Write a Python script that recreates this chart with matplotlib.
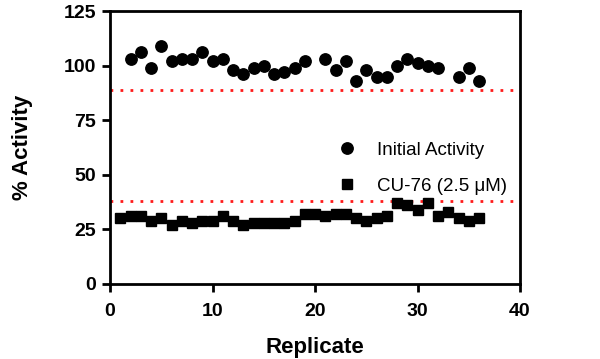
import matplotlib
matplotlib.use("Agg")
import matplotlib.pyplot as plt

plt.rcParams['font.family'] = ['Liberation Sans', 'DejaVu Sans']

initial_x = [2, 3, 4, 5, 6, 7, 8, 9, 10, 11, 12, 13, 14, 15, 16, 17, 18, 19,
             21, 22, 23, 24, 25, 26, 27, 28, 29, 30, 31, 32, 34, 35, 36]
initial_y = [103, 106, 99, 109, 102, 103, 103, 106, 102, 103, 98, 96, 99, 100, 96, 97, 99, 102,
             103, 98, 102, 93, 98, 95, 95, 100, 103, 101, 100, 99, 95, 99, 93]

cu_x = list(range(1, 37))
cu_y = [30, 31, 31, 29, 30, 27, 29, 28, 29, 29, 31, 29, 27, 28, 28, 28, 28, 29,
        32, 32, 31, 32, 32, 30, 29, 30, 31, 37, 36, 34, 37, 31, 33, 30, 29, 30]

thresholds = [88.7, 37.8]
xticks = [0, 10, 20, 30, 40]
yticks = [0, 25, 50, 75, 100, 125]

fig = plt.figure(figsize=(6, 3.59), dpi=100)
ax = fig.add_axes([110/600, 1-284/359, 410/600, 273/359])

for t in thresholds:
    ax.axhline(t, color='#ff1a1a', linestyle=(0, (1, 2.6)), linewidth=2.0, zorder=1)

ax.plot(initial_x, initial_y, 'o', color='black', markersize=8.2, label='Initial Activity', zorder=3)
ax.plot(cu_x, cu_y, 's', color='black', markersize=7.4, label='CU-76 (2.5 μM)', zorder=3)

ax.set_xlim(0, 40)
ax.set_ylim(0, 125)
ax.set_xticks(xticks)
ax.set_yticks(yticks)
for s in ax.spines.values():
    s.set_linewidth(2.0)
ax.tick_params(axis='both', direction='out', length=6, width=2, labelsize=14)
ax.tick_params(axis='x', pad=8)
ax.tick_params(axis='y', pad=4)
for lbl in ax.get_xticklabels() + ax.get_yticklabels():
    lbl.set_fontweight('bold')

ax.set_xlabel('Replicate', fontsize=16, fontweight='bold', labelpad=12)
ax.set_ylabel('% Activity', fontsize=16, fontweight='bold', labelpad=22)

ax.legend(loc='upper left', bbox_to_anchor=(0.538, 0.548), frameon=False, fontsize=13.5,
          handletextpad=1.1, labelspacing=1.0, borderaxespad=0, handlelength=1.0)

fig.savefig('out.png', dpi=100)
